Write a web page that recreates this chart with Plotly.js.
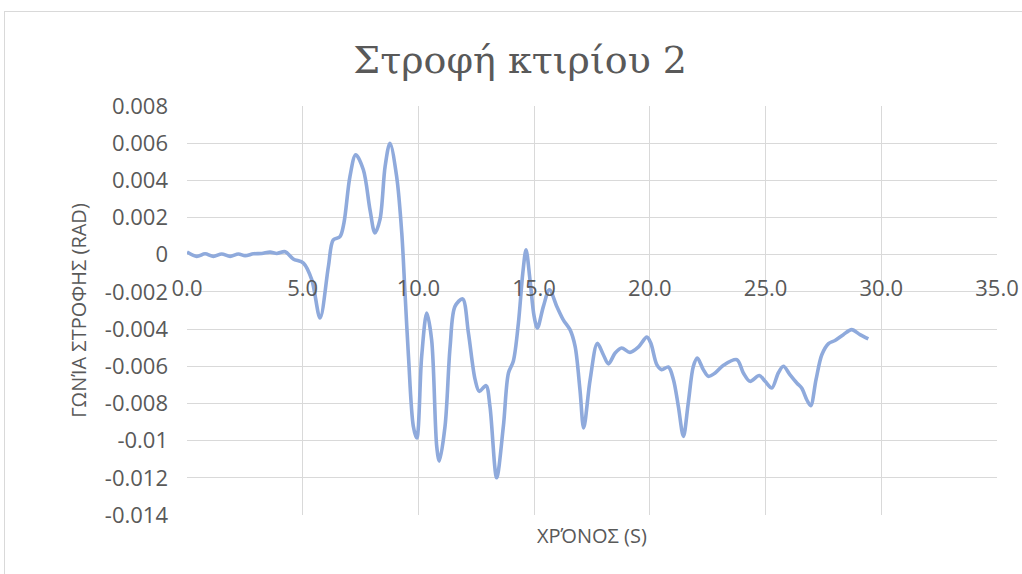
<!DOCTYPE html>
<html>
<head>
<meta charset="utf-8">
<script src="https://cdn.plot.ly/plotly-3.0.1.min.js"></script>
<style>
  html, body { margin: 0; padding: 0; background: #ffffff; }
  #chart { position: absolute; left: 0; top: 0; width: 1022px; height: 574px; }
  #frame { position: absolute; left: 4px; top: 11px; width: 1030px; height: 580px;
           border: 1px solid #d9d9d9; pointer-events: none; }
</style>
</head>
<body>
<div id="chart"></div>
<div id="frame"></div>
<script>
// Time (s)
const time = [0.0, 0.42, 0.78, 1.14, 1.50, 1.86, 2.22, 2.51, 2.87, 3.23, 3.59, 3.88, 4.24, 4.59, 5.03,
  5.39, 5.75, 6.11, 6.32, 6.61, 6.78, 7.04, 7.29, 7.62, 7.91, 8.12, 8.34, 8.56, 8.77, 9.06, 9.28,
  9.42, 9.57, 9.78, 9.93, 10.14, 10.36, 10.57, 10.79, 10.90, 11.15, 11.37, 11.58, 11.91, 12.16,
  12.45, 12.63, 12.92, 13.09, 13.38, 13.67, 13.89, 14.10, 14.32, 14.51, 14.65, 14.82, 15.00,
  15.14, 15.40, 15.66, 15.98, 16.26, 16.55, 16.77, 16.98, 17.14, 17.42, 17.73, 17.99, 18.21,
  18.50, 18.78, 19.14, 19.50, 19.87, 20.04, 20.30, 20.51, 20.80, 21.02, 21.23, 21.45, 21.66,
  21.88, 22.05, 22.31, 22.53, 22.82, 23.18, 23.76, 24.04, 24.33, 24.73, 24.98, 25.27, 25.55,
  25.77, 26.05, 26.35, 26.56, 26.78, 26.95, 27.18, 27.43, 27.72, 28.00, 28.36, 28.72, 29.08, 29.44];

// Rotation angle (rad)
const rotation = [0.00015, -0.00009, 0.00005, -0.00009, 0.00004, -0.00009, 0.00004, -0.00005,
  0.00005, 0.00007, 0.00014, 0.00007, 0.00016, -0.00023, -0.00045,
  -0.00134, -0.0034, -0.00063, 0.0008, 0.00097, 0.0017, 0.0042, 0.00538, 0.00457, 0.0024, 0.00117,
  0.0019, 0.00475, 0.0060, 0.0042, 0.00117,
  -0.00206, -0.00547, -0.00923, -0.00986, -0.00547, -0.00314, -0.00457, -0.0103, -0.0111, -0.00923,
  -0.00493, -0.00278, -0.00238, -0.00421,
  -0.00672, -0.00735, -0.00704, -0.00815, -0.0120, -0.00923, -0.00636, -0.00573, -0.00367,
  -0.00098, 0.00027, -0.00134, -0.00332,
  -0.00394, -0.00278, -0.00188, -0.00278, -0.0035, -0.00403, -0.00493, -0.00726, -0.00932,
  -0.00672, -0.00477, -0.00538, -0.00587,
  -0.00529, -0.00502, -0.00525, -0.00497, -0.00443, -0.00475, -0.00591, -0.00618, -0.00604,
  -0.00672, -0.00815, -0.00977, -0.00797,
  -0.006, -0.00556, -0.00618, -0.00654, -0.00636, -0.00595, -0.00565, -0.00636, -0.00681,
  -0.0065, -0.00681, -0.00717, -0.00636,
  -0.006, -0.00645, -0.0069, -0.00717, -0.0078, -0.00812, -0.00672, -0.00538, -0.00478,
  -0.00461, -0.0043, -0.00403, -0.0043, -0.00453];

// Axis ticks
const xTickVals = [0, 5, 10, 15, 20, 25, 30, 35];
const xTickText = ["0.0", "5.0", "10.0", "15.0", "20.0", "25.0", "30.0", "35.0"];
const yTickVals = [0.008, 0.006, 0.004, 0.002, 0, -0.002, -0.004, -0.006, -0.008, -0.01, -0.012, -0.014];
const yTickText = ["0.008", "0.006", "0.004", "0.002", "0", "-0.002", "-0.004", "-0.006", "-0.008", "-0.01", "-0.012", "-0.014"];

const yMin = -0.014, yMax = 0.008;
const textColor = "#595959";
const gridColor = "#d9d9d9";

const trace = {
  x: time,
  y: rotation,
  type: "scatter",
  mode: "lines",
  line: { color: "#8faadc", width: 3.6, shape: "spline", smoothing: 0.9 },
  hoverinfo: "x+y"
};

const layout = {
  width: 1022,
  height: 574,
  margin: { l: 187, r: 25, t: 106, b: 59 },
  paper_bgcolor: "#ffffff",
  plot_bgcolor: "#ffffff",
  showlegend: false,
  font: { family: "Open Sans, sans-serif", color: textColor },
  title: {
    text: "Στροφή κτιρίου 2",
    font: { family: "DejaVu Serif, serif", size: 38, color: textColor },
    x: 0.509, xanchor: "center",
    y: 1 - 60 / 574, yanchor: "middle", yref: "container"
  },
  xaxis: {
    range: [0, 35],
    tickvals: xTickVals,
    ticktext: xTickText,
    showgrid: true,
    gridcolor: gridColor,
    gridwidth: 1,
    zeroline: false,
    showline: false,
    ticks: "",
    anchor: "free",
    position: (0 - yMin) / (yMax - yMin),
    ticklabelstandoff: 18,
    tickfont: { size: 22, color: textColor },
    title: { text: "" }
  },
  yaxis: {
    range: [yMin, yMax],
    tickvals: yTickVals,
    ticktext: yTickText,
    showgrid: true,
    gridcolor: gridColor,
    gridwidth: 1,
    zeroline: true,
    zerolinecolor: gridColor,
    zerolinewidth: 1,
    showline: false,
    ticks: "",
    ticklabelstandoff: 18,
    tickfont: { size: 22, color: textColor },
    title: { text: "ΓΩΝΊΑ ΣΤΡΟΦΗΣ (RAD)", font: { size: 20, color: textColor }, standoff: 12 }
  },
  annotations: [{
    text: "ΧΡΌΝΟΣ (S)",
    xref: "paper", yref: "paper",
    x: 0.5, y: -0.049,
    xanchor: "center", yanchor: "middle",
    showarrow: false,
    font: { size: 20, color: textColor }
  }]
};

Plotly.newPlot("chart", [trace], layout, { displayModeBar: false, staticPlot: true });
</script>
</body>
</html>
